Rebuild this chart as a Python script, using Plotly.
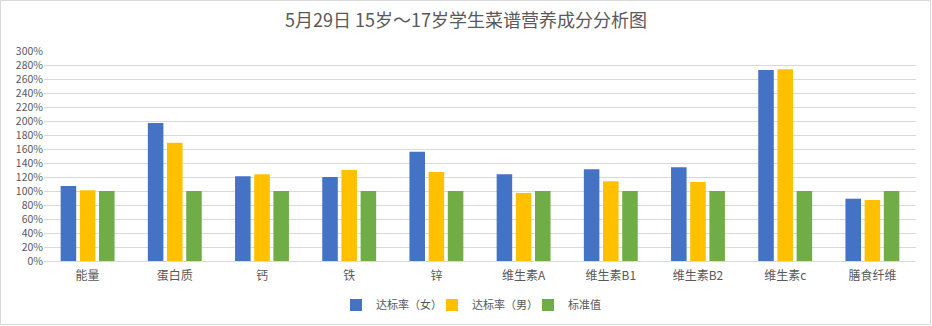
import plotly.graph_objects as go

categories = ["能量", "蛋白质", "钙", "铁", "锌", "维生素A", "维生素B1", "维生素B2", "维生素c", "膳食纤维"]
female = [107, 197, 121, 120, 156, 124, 131, 134, 273, 89]
male = [101, 169, 124, 130, 127, 97, 114, 113, 274, 87]
standard = [100, 100, 100, 100, 100, 100, 100, 100, 100, 100]
series_names = ["达标率（女）", "达标率（男）", "标准值"]
colors = ["#4472C4", "#FFC000", "#70AD47"]
title = "5月29日 15岁～17岁学生菜谱营养成分分析图"

W, H = 932, 326
ml, mr, mt, mb = 44, 16, 51, 65

fig = go.Figure()
for name, vals, c in zip(series_names, [female, male, standard], colors):
    fig.add_trace(go.Bar(x=categories, y=vals, name=name, marker_color=c, marker_line_width=0))

font = "Noto Sans CJK SC, Microsoft YaHei, sans-serif"
pw = W - ml - mr
ph = H - mt - mb
fig.update_layout(
    width=W, height=H,
    margin=dict(l=ml, r=mr, t=mt, b=mb, autoexpand=False),
    paper_bgcolor="white", plot_bgcolor="white",
    font=dict(family=font, color="#595959", size=11),
    title=dict(text=title, x=0.5, xanchor="center", y=1 - 21 / H, yanchor="middle",
               font=dict(size=18, color="#595959", family=font)),
    barmode="group", bargap=0.34, bargroupgap=0.19,
    showlegend=True,
    legend=dict(orientation="h", x=0.5, xanchor="center", y=-(305 - 261) / ph, yanchor="middle",
                font=dict(size=11, color="#595959"), itemwidth=30, traceorder="normal",
                entrywidth=51, entrywidthmode="pixels"),
    xaxis=dict(showgrid=False, showline=True, linecolor="#d9d9d9", linewidth=1, ticks="",
               tickfont=dict(size=12, color="#595959"), ticklabelstandoff=4),
    yaxis=dict(range=[0, 300], dtick=20, ticksuffix="%", showgrid=True, gridcolor="#d9d9d9",
               gridwidth=1, zeroline=False, showline=False, tickfont=dict(size=10.5, color="#595959")),
)
fig.add_shape(type="rect", xref="paper", yref="paper",
              x0=-(ml - 0.5) / pw, x1=1 + (mr - 1.5) / pw,
              y0=-(mb - 1.5) / ph, y1=1 + (mt - 0.5) / ph,
              line=dict(color="#d9d9d9", width=1), fillcolor="rgba(0,0,0,0)", layer="below")
fig.write_html("out.html")
